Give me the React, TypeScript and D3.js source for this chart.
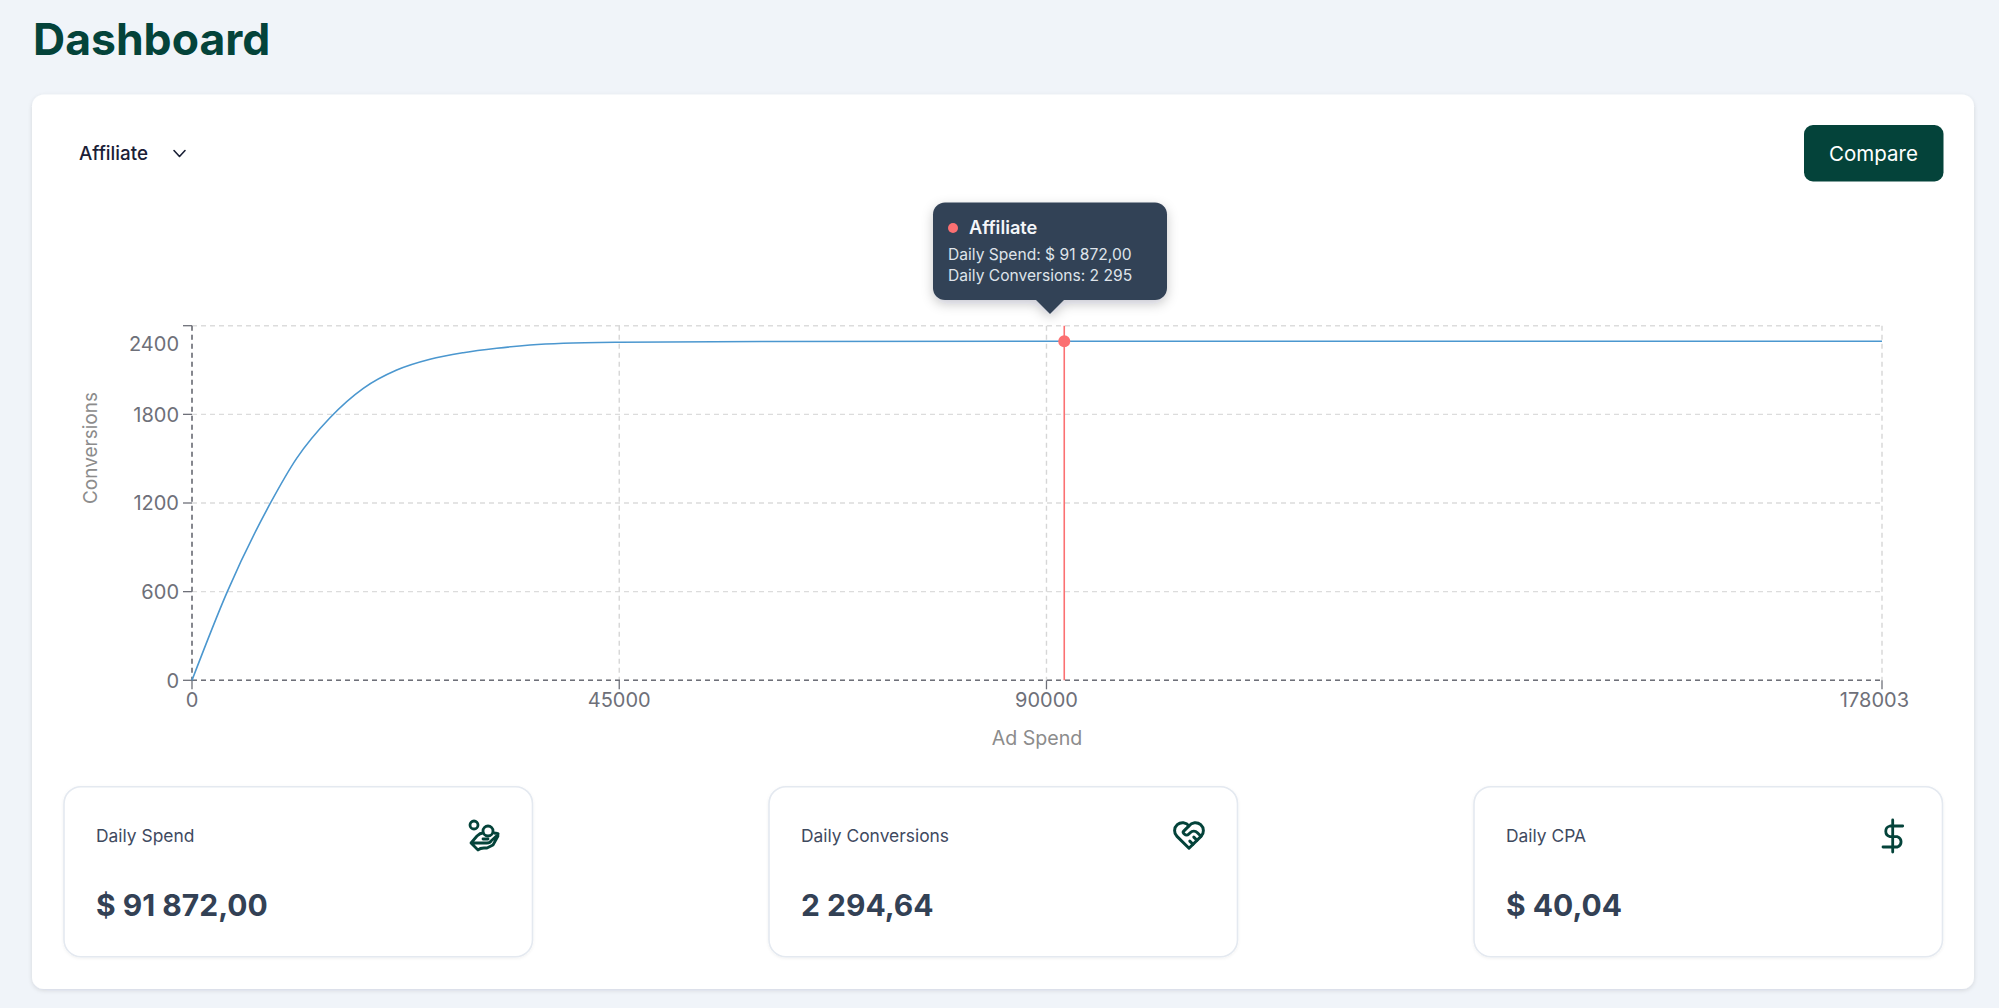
import React from "react";
import * as d3 from "d3";

const W = 1999;
const H = 1008;
const FONT = "Inter, 'Noto Sans', sans-serif";

const spendValues = [0, 3721, 8284, 11021, 14535, 18043, 21561, 25069, 28575, 32094, 35601, 39110, 45000, 60000, 91872, 178003];
const conversionValues = [0, 600, 1202, 1502, 1777, 1976, 2100, 2173, 2217, 2247, 2269, 2281, 2288, 2293, 2294.64, 2295];
const xTicks = [0, 45000, 90000, 178003];
const yTicks = [0, 600, 1200, 1800, 2400];
const selected = { spend: 91872, conversions: 2294.64 };
const tooltipLines = ["Daily Spend: $ 91 872,00", "Daily Conversions: 2 295"];
const kpiLabels = ["Daily Spend", "Daily Conversions", "Daily CPA"];
const kpiValues = ["$ 91 872,00", "2 294,64", "$ 40,04"];

const GREEN = "#04433a";
const SLATE = "#334155";
const RED = "#fb7072";
const BLUE = "#4b97cf";
const AXIS = "#6e7079";

const x = d3.scaleLinear().domain([0, 178003]).range([192, 1882]);
const y = d3.scaleLinear().domain([0, 2400]).range([680.3, 325.7]);
const linePath = d3
  .line<number>()
  .x((d) => x(d))
  .y((_, i) => y(conversionValues[i]))
  .curve(d3.curveMonotoneX)(spendValues) as string;

function HandIcon({ tx, ty }: { tx: number; ty: number }) {
  return (
    <g transform={`translate(${tx},${ty})`} fill="none" stroke={GREEN} strokeWidth={2.8} strokeLinecap="round" strokeLinejoin="round">
      <circle cx={14} cy={13} r={4} />
      <circle cx={28} cy={19} r={5} />
      <path d="M17 24 L11 31 L18 38 M11 31 H27 Q30 31 31 29 L37 23.5 Q39 21.5 37.5 21.5 L34 21 M17 24 Q20 21 23 21 M18 38 Q20 36 24 36 H27 L33 33 L38 24" />
      <path d="M23 27 H28" />
    </g>
  );
}

function HeartIcon({ tx, ty }: { tx: number; ty: number }) {
  return (
    <g transform={`translate(${tx},${ty}) scale(1.6)`} fill="none" stroke={GREEN} strokeWidth={1.85} strokeLinecap="round" strokeLinejoin="round">
      <path d="M19.5 12.572l-7.5 7.428l-7.5 -7.428a5 5 0 1 1 7.5 -6.566a5 5 0 1 1 7.5 6.572" />
      <path d="M12 6l-3.293 3.293a1 1 0 0 0 0 1.414l.543 .543c.69 .69 1.81 .69 2.5 0l1 -1a3.182 3.182 0 0 1 4.5 0l2.25 2.25" />
      <path d="M12.5 15.5l2 2" />
      <path d="M15 13l2 2" />
    </g>
  );
}

function DollarIcon({ tx, ty }: { tx: number; ty: number }) {
  return (
    <g transform={`translate(${tx},${ty})`} fill="none" stroke={GREEN} strokeWidth={2.8} strokeLinecap="round" strokeLinejoin="round">
      <path d="M22.7 14 H10 A5.5 5.5 0 0 0 10 24.7 H14 H17.5 A5.5 5.5 0 0 1 17.5 35 H3" />
      <path d="M12.7 8 V40" />
    </g>
  );
}

const cardX = [64, 769, 1474];

export default function App() {
  const sx = x(selected.spend);
  const sy = y(selected.conversions);
  return (
    <svg
      width={W}
      height={H}
      viewBox={`0 0 ${W} ${H}`}
      style={{ position: "fixed", left: 0, top: 0, display: "block", fontFamily: FONT }}
    >
      <defs>
        <filter id="cardShadow" x="-5%" y="-5%" width="110%" height="110%">
          <feDropShadow dx="0" dy="1.5" stdDeviation="2" floodColor="#0f172a" floodOpacity="0.12" />
        </filter>
        <filter id="kpiShadow" x="-5%" y="-5%" width="110%" height="110%">
          <feDropShadow dx="0" dy="1" stdDeviation="1.5" floodColor="#0f172a" floodOpacity="0.06" />
        </filter>
        <filter id="tipShadow" x="-20%" y="-20%" width="140%" height="150%">
          <feDropShadow dx="0" dy="4" stdDeviation="6" floodColor="#0f172a" floodOpacity="0.22" />
        </filter>
      </defs>
      <rect width={W} height={H} fill="#f0f4f9" />
      <text x={33} y={55} fontSize={44.5} fontWeight={700} fill={GREEN}>Dashboard</text>

      <rect x={32} y={94.5} width={1942} height={894.5} rx={12} fill="#fff" filter="url(#cardShadow)" />

      <text x={79} y={160} fontSize={18.8} fontWeight={500} fill="#1a2036">Affiliate</text>
      <path d="M174 150.5 L179.5 156.5 L185 150.5" fill="none" stroke="#1a2036" strokeWidth={1.6} strokeLinecap="round" strokeLinejoin="round" />

      <rect x={1804} y={125} width={139.5} height={56.5} rx={9} fill={GREEN} />
      <text x={1873.5} y={161} fontSize={20.5} fontWeight={400} fill="#fff" textAnchor="middle">Compare</text>

      {/* Grid */}
      {yTicks.map((t) => (
        <line key={`gy${t}`} x1={x(0)} x2={x(178003)} y1={y(t)} y2={y(t)} stroke="#dcdcdc" strokeWidth={1.4} strokeDasharray="5 4" />
      ))}
      {xTicks.map((t) => (
        <line key={`gx${t}`} x1={x(t)} x2={x(t)} y1={y(2400)} y2={y(0)} stroke="#d6d6d6" strokeWidth={1.4} strokeDasharray="5 4" />
      ))}

      {/* Axes */}
      <line x1={x(0)} x2={x(178003)} y1={y(0)} y2={y(0)} stroke={AXIS} strokeWidth={1.6} strokeDasharray="5 4" />
      <line x1={x(0)} x2={x(0)} y1={y(2400)} y2={y(0)} stroke={AXIS} strokeWidth={1.6} strokeDasharray="5 4" />
      {yTicks.map((t) => (
        <g key={`ty${t}`}>
          <line x1={183} x2={x(0)} y1={y(t)} y2={y(t)} stroke={AXIS} strokeWidth={1.3} />
          <text x={179} y={y(t) + (t === 2400 ? 18 : 0)} dy="0.36em" fontSize={20} fill={AXIS} textAnchor="end">{t}</text>
        </g>
      ))}
      {xTicks.map((t) => (
        <g key={`tx${t}`}>
          <line x1={x(t)} x2={x(t)} y1={y(0)} y2={y(0) + 9} stroke={AXIS} strokeWidth={1.3} />
          <text
            x={t === 178003 ? 1909 : x(t)}
            y={706.5}
            fontSize={20}
            fill={AXIS}
            textAnchor={t === 178003 ? "end" : "middle"}
          >
            {t}
          </text>
        </g>
      ))}
      <text x={1037} y={745} fontSize={19.6} fill="#8c8c8c" textAnchor="middle">Ad Spend</text>
      <text transform="translate(97,448) rotate(-90)" fontSize={19} fill="#8c8c8c" textAnchor="middle">Conversions</text>

      {/* Series */}
      <path d={linePath} fill="none" stroke={BLUE} strokeWidth={1.6} />
      <line x1={sx} x2={sx} y1={y(2400)} y2={y(0)} stroke={RED} strokeWidth={1.6} />
      <circle cx={sx} cy={sy} r={6} fill={RED} />

      {/* Tooltip */}
      <g filter="url(#tipShadow)">
        <rect x={933} y={202.5} width={234} height={97.5} rx={12} fill="#334256" />
        <path d="M1035 299 L1050 314 L1065 299 Z" fill="#334256" />
      </g>
      <circle cx={953} cy={228} r={5} fill={RED} />
      <text x={969} y={234} fontSize={18.2} fontWeight={600} fill="#f4f6f9">Affiliate</text>
      <text x={948} y={260} fontSize={15.6} fill="#dfe4ea">{tooltipLines[0]}</text>
      <text x={948} y={280.5} fontSize={15.6} fill="#dfe4ea">{tooltipLines[1]}</text>

      {/* KPI cards */}
      {kpiLabels.map((label, i) => (
        <g key={label}>
          <rect x={cardX[i]} y={786.7} width={468.5} height={170} rx={17} fill="#fff" stroke="#e4e9f0" strokeWidth={1.6} filter="url(#kpiShadow)" />
          <text x={cardX[i] + 32} y={842} fontSize={17.4} fontWeight={400} fill="#3f4a5f">{label}</text>
          <text x={cardX[i] + 32} y={916} fontSize={30} fontWeight={700} fill={SLATE}>{kpiValues[i]}</text>
        </g>
      ))}
      <HandIcon tx={460} ty={812} />
      <HeartIcon tx={1189 - 12 * 1.6} ty={835.5 - 12 * 1.6} />
      <DollarIcon tx={1880} ty={812} />
    </svg>
  );
}
